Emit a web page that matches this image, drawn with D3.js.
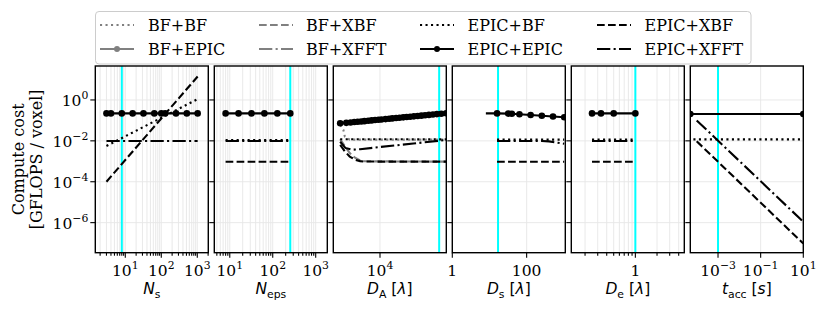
<!DOCTYPE html>
<html><head><meta charset="utf-8">
<script src="https://cdn.jsdelivr.net/npm/d3@7"></script>
<style>body{margin:0;background:#fff}svg{display:block}</style>
</head><body><svg id="c" width="830" height="312"></svg>
<script>
// ---------------- DATA ----------------
const seriesOrder = ["BF+BF","BF+EPIC","BF+XBF","BF+XFFT","EPIC+BF","EPIC+EPIC","EPIC+XBF","EPIC+XFFT"];

// Panel 1: N_s
const nsX = [3, 4, 8, 16, 32, 64, 100, 128, 256, 512, 1024];
const nsEpicEpic = [0.22, 0.22, 0.22, 0.22, 0.22, 0.22, 0.22, 0.22, 0.22, 0.22, 0.22];
const nsLineX = [3, 1024];
const nsEpicBf = [0.0056, 1.1];
const nsEpicXbf = [0.0001, 14];
const nsEpicXfft = [0.0098, 0.0098];
const nsMarker = 8;

// Panel 2: N_eps
const nepsX = [8, 16, 32, 64, 128, 256];
const nepsEpicEpic = [0.22, 0.22, 0.22, 0.22, 0.22, 0.22];
const nepsLineX = [8, 256];
const nepsEpicBf = [0.011, 0.011];
const nepsEpicXbf = [0.00095, 0.00095];
const nepsEpicXfft = [0.0098, 0.0098];
const nepsMarker = 256;

// Panel 3: D_A
const daX = [2700, 3300, 3800, 4300, 4800, 5400, 6000, 6800, 7600, 8500, 9500, 10500, 12000, 13500, 15000,
             17000, 19000, 21500, 24000, 27000, 30500, 34500, 39000, 44000, 50000, 57000, 65000, 75000, 88000];
const daEpicEpic = [0.072, 0.076, 0.079, 0.083, 0.086, 0.089, 0.092, 0.096, 0.100, 0.104, 0.107, 0.111, 0.116, 0.121, 0.125,
                    0.130, 0.135, 0.141, 0.146, 0.151, 0.158, 0.164, 0.171, 0.178, 0.186, 0.194, 0.203, 0.212, 0.224];
const daBfBfX = [2700, 3000, 3150, 3700, 88000];
const daBfBf = [0.06, 0.034, 0.016, 0.0115, 0.0115];
const daEpicBfX = [2700, 88000];
const daEpicBf = [0.012, 0.0118];
const daXbfX = [2700, 3150, 3700, 4400, 5200, 6000, 88000];
const daBfXbf = [0.012, 0.0055, 0.0025, 0.0015, 0.0011, 0.001, 0.00096];
const daEpicXbf = [0.0063, 0.003, 0.0017, 0.0012, 0.00102, 0.00097, 0.00096];
const daXfftX = [2700, 3200, 4000, 5200, 10000, 30000, 88000];
const daEpicXfft = [0.009, 0.0045, 0.0037, 0.0039, 0.005, 0.0074, 0.011];
const daMarker = 70000;

// Panel 4: D_s
const dsX = [8, 16, 32, 40, 64, 128, 256, 512, 1024];
const dsEpicEpic = [0.22, 0.22, 0.215, 0.21, 0.2, 0.185, 0.17, 0.155, 0.143];
const dsLineX = [16, 1024];
const dsEpicBf = [0.0115, 0.0115];
const dsEpicXbf = [0.00095, 0.00095];
const dsXfftX = [16, 256, 400, 1024];
const dsEpicXfft = [0.0098, 0.0098, 0.0094, 0.0072];
const dsMarker = 17;

// Panel 5: D_e
const deX = [0.25, 0.333, 0.5, 1];
const deEpicEpic = [0.22, 0.22, 0.22, 0.22];
const deLineX = [0.25, 1];
const deEpicBf = [0.0115, 0.0115];
const deEpicXbf = [0.00095, 0.00095];
const deEpicXfft = [0.0098, 0.0098];
const deMarker = 1;

// Panel 6: t_acc
const taEpicX = [5e-5, 10];
const taEpicEpic = [0.207, 0.207];
const taBfX = [7e-5, 10];
const taEpicBf = [0.0118, 0.0118];
const taLineX = [1e-4, 10];
const taEpicXfft = [0.1, 1.1e-6];
const taEpicXbf = [0.0095, 9.5e-8];
const taMarker = 1e-3;

// tick labels
const yTickVals = [1, 1e-2, 1e-4, 1e-6];
const yTickExp = ["0", "\u22122", "\u22124", "\u22126"];

// ---------------- STYLES / LAYOUT ----------------
const grey = "#808080";
const DOT = "2.1,3.4", DASH = "7.7,3.3", DASHDOT = "13.3,3.3,2.1,3.3";
const styles = {
  "BF+BF":     {color: grey, dash: DOT},
  "BF+EPIC":   {color: grey, dash: null, marker: true},
  "BF+XBF":    {color: grey, dash: DASH},
  "BF+XFFT":   {color: grey, dash: DASHDOT},
  "EPIC+BF":   {color: "#000", dash: DOT},
  "EPIC+EPIC": {color: "#000", dash: null, marker: true},
  "EPIC+XBF":  {color: "#000", dash: DASH},
  "EPIC+XFFT": {color: "#000", dash: DASHDOT}
};

const P = (a) => Math.pow(10, a);
const panels = [
  {dom: [P(0.167), P(3.306)], major: [10, 100, 1000], labels: [["10","1"],["10","2"],["10","3"]], minor: true,
   vline: nsMarker, xlabel: [{t:"N", i:1},{t:"s", sub:1}],
   series: [
     {name:"EPIC+BF", x: nsLineX, y: nsEpicBf},
     {name:"EPIC+EPIC", x: nsX, y: nsEpicEpic},
     {name:"EPIC+XBF", x: nsLineX, y: nsEpicXbf},
     {name:"EPIC+XFFT", x: nsLineX, y: nsEpicXfft}]},
  {dom: [P(0.64), P(3.27)], major: [10, 100, 1000], labels: [["10","1"],["10","2"],["10","3"]], minor: true,
   vline: nepsMarker, xlabel: [{t:"N", i:1},{t:"eps", sub:1}],
   series: [
     {name:"EPIC+BF", x: nepsLineX, y: nepsEpicBf},
     {name:"EPIC+EPIC", x: nepsX, y: nepsEpicEpic},
     {name:"EPIC+XBF", x: nepsLineX, y: nepsEpicXbf},
     {name:"EPIC+XFFT", x: nepsLineX, y: nepsEpicXfft}]},
  {dom: [P(3.333), P(4.947)], major: [1e4], labels: [["10","4"]], minor: false,
   vline: daMarker, xlabel: [{t:"D", i:1},{t:"A", sub:1},{t:" ["},{t:"\u03bb", i:1},{t:"]"}],
   series: [
     {name:"BF+BF", x: daBfBfX, y: daBfBf},
     {name:"BF+XBF", x: daXbfX, y: daBfXbf},
     {name:"EPIC+BF", x: daEpicBfX, y: daEpicBf},
     {name:"EPIC+EPIC", x: daX, y: daEpicEpic},
     {name:"EPIC+XBF", x: daXbfX, y: daEpicXbf},
     {name:"EPIC+XFFT", x: daXfftX, y: daEpicXfft}]},
  {dom: [1, P(3.04)], major: [1, 100], labels: [["1",null],["100",null]], minor: false,
   vline: dsMarker, xlabel: [{t:"D", i:1},{t:"s", sub:1},{t:" ["},{t:"\u03bb", i:1},{t:"]"}],
   series: [
     {name:"EPIC+BF", x: dsLineX, y: dsEpicBf},
     {name:"EPIC+EPIC", x: dsX, y: dsEpicEpic, markerFrom: 1},
     {name:"EPIC+XBF", x: dsLineX, y: dsEpicXbf},
     {name:"EPIC+XFFT", x: dsXfftX, y: dsEpicXfft}]},
  {dom: [P(-0.89), P(0.68)], major: [1], labels: [["1",null]], minor: true,
   vline: deMarker, xlabel: [{t:"D", i:1},{t:"e", sub:1},{t:" ["},{t:"\u03bb", i:1},{t:"]"}],
   series: [
     {name:"EPIC+BF", x: deLineX, y: deEpicBf},
     {name:"EPIC+EPIC", x: deX, y: deEpicEpic},
     {name:"EPIC+XBF", x: deLineX, y: deEpicXbf},
     {name:"EPIC+XFFT", x: deLineX, y: deEpicXfft}]},
  {dom: [P(-4.3), P(1)], major: [1e-3, 1e-1, 10], labels: [["10","\u22123"],["10","\u22121"],["10","1"]], minor: false,
   vline: taMarker, xlabel: [{t:"t", i:1},{t:"acc", sub:1},{t:" ["},{t:"s", i:1},{t:"]"}],
   series: [
     {name:"EPIC+BF", x: taBfX, y: taEpicBf},
     {name:"EPIC+EPIC", x: taEpicX, y: taEpicEpic},
     {name:"EPIC+XBF", x: taLineX, y: taEpicXbf},
     {name:"EPIC+XFFT", x: taLineX, y: taEpicXfft}]}
];

const SERIF = "'DejaVu Serif', serif", SANS = "'DejaVu Sans', sans-serif";
const FS = 16, TFS = 15.5;
const topY = 66, botY = 252.7;
const left0 = 95.3, step = 119, pw = 113;

const svg = d3.select("#c");
const y = d3.scaleLog().domain([P(-7.47), P(1.66)]).range([botY, topY]);

function richText(g, x, yb, parts, font, anchor, size) {
  const t = g.append("text").attr("x", x).attr("y", yb).attr("text-anchor", anchor)
    .attr("font-family", font).attr("font-size", size).attr("fill", "#000");
  let shift = 0;
  parts.forEach(p => {
    const ts = t.append("tspan").text(p.t);
    let target = 0, fsz = size;
    if (p.sub) { target = size * 0.28; fsz = size * 0.7; }
    if (p.sup) { target = -size * 0.44; fsz = size * 0.7; }
    ts.attr("dy", target - shift).attr("font-size", fsz);
    if (p.i) ts.attr("font-style", "italic");
    shift = target;
  });
  return t;
}

const defs = svg.append("defs");

panels.forEach((pn, k) => {
  const x0 = left0 + k * step;
  const x = d3.scaleLog().domain(pn.dom).range([x0, x0 + pw]);
  const g = svg.append("g");
  const clipId = "clip" + k;
  defs.append("clipPath").attr("id", clipId).append("rect")
    .attr("x", x0).attr("y", topY).attr("width", pw).attr("height", botY - topY);

  const allTicks = pn.minor ? x.ticks() : [];
  const minor = allTicks.filter(v => !pn.major.some(m => Math.abs(m - v) / m < 1e-6));

  // grid
  const grid = g.append("g").attr("stroke", "#e6e6e6").attr("stroke-width", 0.9);
  minor.concat(pn.major).forEach(v => {
    grid.append("line").attr("x1", x(v)).attr("x2", x(v)).attr("y1", topY).attr("y2", botY);
  });
  yTickVals.forEach(v => {
    grid.append("line").attr("x1", x0).attr("x2", x0 + pw).attr("y1", y(v)).attr("y2", y(v));
  });

  const plot = g.append("g").attr("clip-path", `url(#${clipId})`);
  plot.append("line").attr("x1", x(pn.vline)).attr("x2", x(pn.vline))
    .attr("y1", topY).attr("y2", botY).attr("stroke", "#00ffff").attr("stroke-width", 2);

  const order = s => seriesOrder.indexOf(s.name);
  pn.series.slice().sort((a, b) => order(a) - order(b)).forEach(s => {
    const st = styles[s.name];
    const pts = s.x.map((v, i) => [v, s.y[i]]);
    plot.append("path").datum(pts)
      .attr("d", d3.line().x(d => x(d[0])).y(d => y(d[1])))
      .attr("fill", "none").attr("stroke", st.color).attr("stroke-width", 2.1)
      .attr("stroke-dasharray", st.dash).attr("stroke-linecap", "butt");
    if (st.marker) {
      plot.selectAll(null).data(pts.slice(s.markerFrom || 0)).enter().append("circle")
        .attr("cx", d => x(d[0])).attr("cy", d => y(d[1])).attr("r", 3.3).attr("fill", st.color);
    }
  });

  const axg = g.append("g").attr("stroke", "#000").attr("stroke-width", 1.1);
  pn.major.forEach(v => axg.append("line").attr("x1", x(v)).attr("x2", x(v)).attr("y1", botY).attr("y2", botY + 5));
  minor.forEach(v => axg.append("line").attr("x1", x(v)).attr("x2", x(v)).attr("y1", botY).attr("y2", botY + 3));
  yTickVals.forEach(v => axg.append("line").attr("x1", x0 - 5).attr("x2", x0).attr("y1", y(v)).attr("y2", y(v)));

  g.append("rect").attr("x", x0).attr("y", topY).attr("width", pw).attr("height", botY - topY)
    .attr("fill", "none").attr("stroke", "#000").attr("stroke-width", 1.4);

  pn.major.forEach((v, i) => {
    const lb = pn.labels[i];
    const parts = lb[1] ? [{t: lb[0]}, {t: lb[1], sup: 1}] : [{t: lb[0]}];
    richText(g, x(v), 276, parts, SERIF, "middle", TFS);
  });
  richText(g, x0 + pw / 2, 294, pn.xlabel, SANS, "middle", TFS);

  if (k === 0) {
    yTickVals.forEach((v, i) => {
      richText(g, x0 - 7, y(v) + 6, [{t: "10"}, {t: yTickExp[i], sup: 1}], SERIF, "end", TFS);
    });
  }
});

// y axis title
const yc = (topY + botY) / 2;
[["Compute cost", 24], ["[GFLOPS / voxel]", 42]].forEach(([txt, xx]) => {
  svg.append("text").attr("transform", `translate(${xx},${yc}) rotate(-90)`)
    .attr("text-anchor", "middle").attr("font-family", SERIF).attr("font-size", FS).text(txt);
});

// legend
const lg = svg.append("g");
lg.append("rect").attr("x", 95.5).attr("y", 11.5).attr("width", 655.5).attr("height", 52.5)
  .attr("rx", 3.5).attr("fill", "rgba(255,255,255,0.8)").attr("stroke", "#cccccc").attr("stroke-width", 1);
const handleX = [100, 259, 420, 597];
const textX = [148, 306, 467.5, 644.5];
const rowY = [25, 49];
seriesOrder.forEach((name, i) => {
  const col = Math.floor(i / 2), row = i % 2;
  const st = styles[name];
  const hx = handleX[col], hy = rowY[row];
  lg.append("line").attr("x1", hx).attr("x2", hx + 34).attr("y1", hy).attr("y2", hy)
    .attr("stroke", st.color).attr("stroke-width", 2.1).attr("stroke-dasharray", st.dash);
  if (st.marker) lg.append("circle").attr("cx", hx + 17).attr("cy", hy).attr("r", 3).attr("fill", st.color);
  lg.append("text").attr("x", textX[col]).attr("y", hy + 5.8).attr("font-family", SERIF)
    .attr("font-size", FS).text(name);
});
</script></body></html>
